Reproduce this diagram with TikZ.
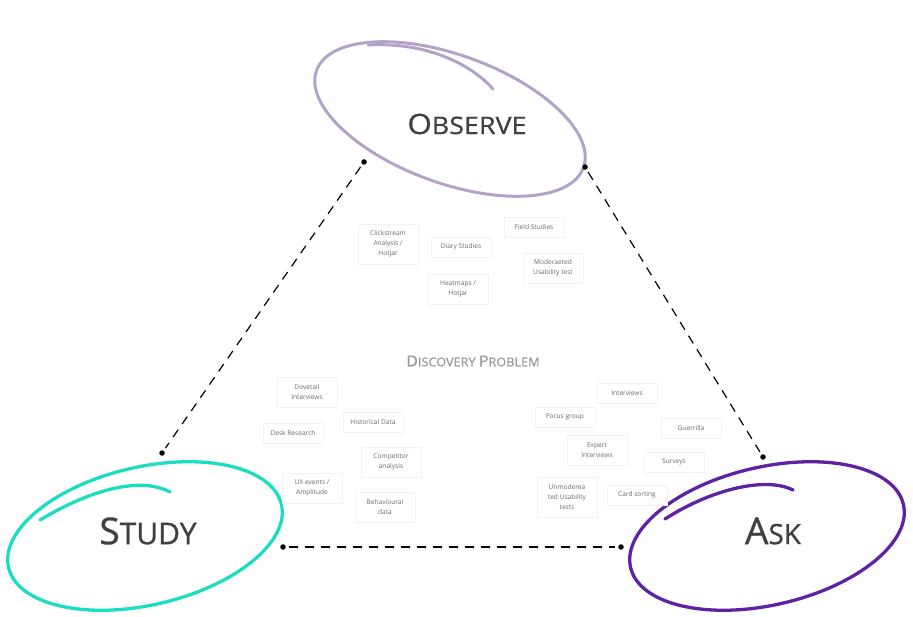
\documentclass[tikz,border=0pt]{standalone}
\usepackage{fontspec}
\usepackage{graphicx}
\setmainfont{Open Sans}
\newfontfamily\headfont{Open Sans}[FakeBold=0.8]
\usetikzlibrary{shadows}
\definecolor{obscol}{HTML}{B3A3C9}
\definecolor{stucol}{HTML}{1BDDC2}
\definecolor{askcol}{HTML}{5E22A3}
\definecolor{headcol}{HTML}{404040}
\definecolor{cardtxt}{HTML}{6A6A6A}
\definecolor{probcol}{HTML}{999999}
\tikzset{
  card/.style={fill=white, draw=black!5, line width=0.4pt,
    drop shadow={opacity=0.10, shadow xshift=0.6pt, shadow yshift=-0.8pt},
    minimum width=60pt, inner sep=1pt, align=center,
    font=\fontsize{6.6}{10}\selectfont, text=cardtxt},
  cardA/.style={card, minimum height=20pt},
  cardB/.style={card, minimum height=30pt},
  cardC/.style={card, minimum height=40pt},
  dotnode/.style={circle, fill=black, inner sep=0pt, minimum size=5.5pt},
  link/.style={draw=black, line width=1.2pt, dash pattern=on 9pt off 7pt, shorten <=3pt, shorten >=3pt},
  heading/.style={text=headcol, inner sep=0pt, font=\headfont},
  sketch/.style={line width=3pt, line cap=round},
}
\begin{document}
\begin{tikzpicture}[x=1pt,y=-1pt]
\useasboundingbox (0,0) rectangle (913,617);

% sketchy ellipses
\draw[sketch, obscol, rotate around={-20:(450,119)}] (450,119) ellipse [x radius=142, y radius=64];
\draw[sketch, obscol] (368,45) .. controls (420,42) and (467,60) .. (493,89);
\draw[sketch, stucol, line width=3.3pt, rotate around={13:(145,536)}] (145,536) ellipse [x radius=140, y radius=69];
\draw[sketch, stucol, line width=3.3pt] (40,520) .. controls (90,490) and (140,476) .. (170,492);
\draw[sketch, askcol, line width=3.3pt, rotate around={13:(767,536)}] (767,536) ellipse [x radius=140, y radius=69];
\draw[sketch, askcol, line width=3.3pt] (665,519) .. controls (710,490) and (765,476) .. (793,490);

% headings
\node[heading] (obstxt) at (467,124) {\scalebox{1.12}[1]{\fontsize{28}{28}\selectfont O\fontsize{24}{24}\selectfont BSERVE}};
\node[heading] (stutxt) at (148,531) {\fontsize{37}{37}\selectfont S\fontsize{30}{30}\selectfont TUDY};
\node[heading] (asktxt) at (773,531) {\fontsize{37}{37}\selectfont A\fontsize{28}{28}\selectfont SK};
\node[text=probcol, inner sep=0pt, font=\headfont] (prob) at (473,361) {\scalebox{1.06}[1]{\fontsize{15}{15}\selectfont D\fontsize{12}{12}\selectfont ISCOVERY \fontsize{15}{15}\selectfont P\fontsize{12}{12}\selectfont ROBLEM}};

% dots and connectors
\node[dotnode] (o1) at (364,162) {};
\node[dotnode] (s1) at (162,453) {};
\node[dotnode] (o2) at (585,167) {};
\node[dotnode] (a1) at (763,457) {};
\node[dotnode] (s2) at (283,547) {};
\node[dotnode] (a2) at (621,547) {};
\draw[link] (o1) -- (s1);
\draw[link] (o2) -- (a1);
\draw[link] (s2) -- (a2);

% observe cards
\node[cardC] (c1) at (388,244) {Clickstream\\Analysis /\\Hotjar};
\node[cardA] (c2) at (461,247) {Diary Studies};
\node[cardA] (c3) at (534,227) {Field Studies};
\node[cardB] (c4) at (553,268) {Moderaeted\\Usability test};
\node[cardB] (c5) at (458,289) {Heatmaps /\\Hotjar};

% study cards
\node[cardB] (c6) at (307,392) {Dovetail\\Interviews};
\node[cardA] (c7) at (373,422) {Historical Data};
\node[cardA] (c8) at (293,433) {Desk Research};
\node[cardB] (c9) at (391,462) {Competitor\\analysis};
\node[cardB] (c10) at (312,488) {UX events /\\Amplitude};
\node[cardB] (c11) at (385,507) {Behavioural\\data};

% ask cards
\node[cardA] (c12) at (627,393) {Interviews};
\node[cardA] (c13) at (565,417) {Focus group};
\node[cardA] (c14) at (691,428) {Guerrilla};
\node[cardB] (c15) at (597,450) {Expert\\Interviews};
\node[cardA] (c16) at (674,462) {Surveys};
\node[cardC] (c17) at (567,497) {Unmoderea\\ted Usability\\tests};
\node[cardA] (c18) at (637,495) {Card sorting};
\end{tikzpicture}
\end{document}
